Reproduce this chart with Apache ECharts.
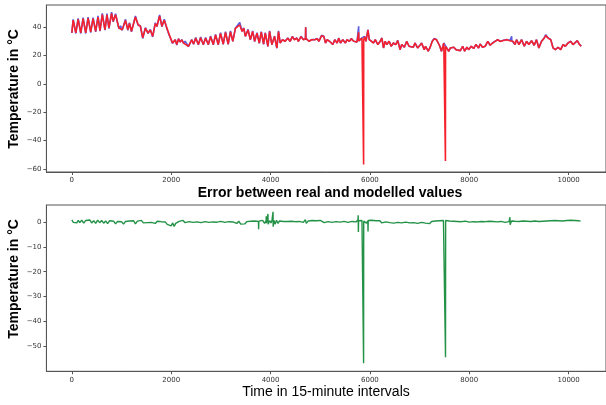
<!DOCTYPE html>
<html>
<head>
<meta charset="utf-8">
<script src="https://cdn.jsdelivr.net/npm/echarts@6/dist/echarts.min.js"></script>
<style>
html,body{margin:0;padding:0;background:#fff;}
#chart{width:606px;height:405px;}
</style>
</head>
<body>
<div id="chart"></div>
<script>
// ---- Data ----
const timeIdx = [0,27,80,127,180,227,280,327,380,427,480,527,567,613,667,707,747,800,833,880,947,980,1013,1080,1127,1160,1200,1280,1333,1380,1427,1480,1533,1580,1627,1680,1713,1767,1813,1860,1913,1960,2000,2027,2080,2113,2147,2180,2213,2250,2280,2347,2413,2450,
2493,2547,2593,2647,2693,2747,2793,2847,2893,2947,2993,3047,3093,3147,3193,3240,3293,3327,3380,3427,3460,3493,3547,3593,3640,3680,3727,3773,3813,3860,3893,3947,3980,4027,4080,4127,4160,4193,4240,4293,4347,4393,4440,4480,4527,4560,4613,4660,4703,4707,4711,4727,4773,4827,4893,4940,
4973,5027,5073,5107,5140,5187,5227,5253,5293,5340,5373,5407,5453,5507,5540,5587,5627,5673,5707,5740,5769,5773,5777,5807,5840,5871,5873,5875,5893,5920,5960,5987,6027,6073,6107,6160,6207,6240,6273,6307,6340,6387,6427,6473,6520,6560,6607,6640,6693,6740,6787,6827,6873,6907,6960,7007,7040,7093,7120,7173,7207,7253,7293,7340,7407,7440,
7487,7518,7520,7522,7553,7587,7620,7653,7687,7733,7773,7820,7867,7907,7953,7987,8040,8087,8133,8187,8220,8267,8320,8373,8420,8467,8520,8573,8620,8687,8753,8820,8849,8853,8857,8887,8920,8953,9000,9053,9107,9153,9200,9253,9307,9353,9400,9453,9507,9540,9587,9640,9687,9733,9787,9840,9887,9933,9987,10040,10087,10120,10173,10220,10253];

const realTemp = [36.0,45.6,35.6,46.3,35.6,46.8,35.6,47.2,36.3,46.8,36.8,48.0,37.2,49.8,37.9,49.6,39.1,50.6,43.8,49.6,39.1,41.0,37.9,45.6,37.9,43.2,36.8,48.0,41.5,41.0,32.1,39.7,35.6,38.5,33.2,43.2,40.5,48.7,40.3,45.6,39.1,34.4,31.0,28.6,31.3,27.5,32.0,29.6,31.3,28.6,30.1,26.4,31.3,28.0,
32.7,27.6,33.1,27.6,32.7,27.6,33.8,27.6,35.0,27.6,36.2,28.0,36.9,28.0,37.4,30.1,39.5,40.9,43.3,37.2,39.5,33.6,38.5,31.1,37.4,29.9,36.2,28.7,36.9,28.0,36.2,26.4,37.4,27.6,33.8,25.2,37.4,28.9,31.3,30.1,32.5,30.1,33.6,31.3,32.5,30.1,33.6,31.3,31.8,40.0,32.2,32.5,30.1,31.3,31.3,32.0,
30.1,34.3,33.6,28.9,31.3,30.1,31.3,27.8,31.3,28.9,32.5,28.9,31.3,28.9,31.3,30.1,32.0,30.1,31.3,29.6,30.0,40.7,30.4,30.1,32.5,31.8,31.5,31.2,33.6,30.1,38.3,31.3,30.1,28.9,31.3,27.8,30.1,32.5,25.4,30.1,27.8,30.1,26.6,28.9,27.8,30.8,24.2,27.8,25.9,30.1,26.6,27.8,25.9,28.9,25.4,27.3,28.9,24.2,26.6,23.1,25.4,30.1,32.0,31.3,26.6,23.1,
28.9,27.5,27.0,26.5,26.6,23.1,25.4,24.2,25.9,24.2,25.4,23.5,26.6,23.1,25.9,24.2,26.6,25.0,27.8,25.4,28.2,25.9,26.6,30.1,27.3,28.9,30.1,31.3,30.1,30.8,31.3,30.6,30.8,33.6,30.5,30.1,27.8,31.3,27.8,31.3,26.6,30.1,27.8,30.6,27.3,31.3,25.4,30.1,32.5,34.8,32.5,31.3,25.4,24.2,25.9,24.2,27.8,26.6,28.9,30.1,27.8,28.9,30.6,27.8,26.6];

const modelTemp = [36.0,45.0,36.0,45.6,36.0,46.1,36.0,46.5,36.7,46.1,37.2,47.2,37.6,48.9,38.3,48.8,39.5,49.7,44.2,48.8,39.5,40.7,38.3,44.8,38.3,42.6,37.2,47.2,41.9,40.7,32.5,39.3,36.0,38.1,33.6,42.6,40.7,47.9,40.7,44.9,39.5,34.8,31.3,28.9,31.1,27.8,31.8,29.6,31.1,28.8,30.0,26.6,31.1,28.2,
32.3,27.8,32.6,27.8,32.3,27.8,33.3,27.8,34.5,27.8,35.6,28.2,36.3,28.2,36.8,30.1,39.2,40.3,41.6,37.0,39.3,33.6,38.1,31.3,37.0,30.1,35.8,28.9,36.5,28.2,35.8,26.6,37.0,27.8,33.5,25.4,37.0,28.9,31.2,30.1,32.3,30.1,33.4,31.2,32.4,30.1,33.4,31.2,31.8,40.0,32.2,32.5,30.1,31.2,31.2,31.9,
30.1,34.0,33.4,28.9,31.2,30.1,31.2,27.8,31.2,28.9,32.3,28.9,31.2,28.9,31.2,30.1,31.8,30.1,31.2,29.6,30.0,36.5,30.4,30.1,32.3,31.8,-56.8,31.2,33.4,30.1,38.0,31.2,30.1,28.9,31.2,27.8,30.1,32.3,25.4,30.1,27.8,30.1,26.6,28.9,27.8,30.6,24.2,27.8,25.9,30.0,26.6,27.8,25.9,28.8,25.4,27.3,28.8,24.2,26.6,23.1,25.4,30.0,31.8,31.2,26.6,23.1,
28.8,27.5,-54.4,26.5,26.6,23.1,25.4,24.2,25.9,24.2,25.4,23.5,26.6,23.1,25.9,24.2,26.6,25.0,27.8,25.4,28.1,25.9,26.6,30.0,27.3,28.8,30.0,31.2,30.0,30.7,31.2,30.5,30.8,31.8,30.5,30.0,27.8,31.2,27.8,31.2,26.6,30.0,27.8,30.5,27.3,31.2,25.4,30.0,32.3,34.1,32.3,31.2,25.4,24.2,25.9,24.2,27.8,26.6,28.8,30.0,27.8,28.8,30.5,27.8,26.6];

const errPoints = [[0,0.8],[30,-0.2],[60,0.5],[100,-0.4],[130,0.6],[160,-0.3],[200,0.7],[240,-0.5],[280,0.6],[320,-0.2],[360,0.8],[400,-0.4],[440,0.5],[480,-0.6],[520,0.7],[560,-0.3],[600,0.6],[640,-0.5],[680,0.4],[720,-0.7],[760,0.5],[800,-0.3],[840,0.3],[880,-0.8],[920,0.2],[960,-0.5],[1000,0.1],[1040,-0.9],[1080,0.2],[1120,-0.6],[1160,0.4],[1200,-0.3],[1240,0.5],[1280,-0.8],[1320,0.3],[1360,-0.2],[1400,0.6],[1440,-0.4],[1480,0.2],[1520,-0.3],[1560,0.5],[1600,-0.2],[1640,0.4],[1680,-0.6],[1720,0.3],[1760,-0.4],[1800,0.1],[1840,-0.7],[1880,0.0],[1920,-1.0],[1960,-0.2],[2000,-1.6],[2030,-0.4],[2060,-1.8],[2090,-0.6],[2120,-1.2],[2160,0.2],[2200,-0.4],[2240,0.6],[2280,-0.3],[2320,0.5],[2360,0.1],[2400,0.7],[2440,-0.2],[2480,0.5],[2520,0.0],[2560,0.6],[2600,-0.3],[2640,0.4],[2680,0.1],[2720,0.6],[2760,-0.2],[2800,0.5],[2840,0.0],[2880,0.7],[2920,-0.1],[2960,0.5],[3000,0.2],[3040,0.6],[3080,-0.2],[3120,0.5],[3160,0.1],[3200,0.6],[3240,0.0],[3280,0.4],[3320,-0.6],[3360,0.3],[3400,-0.9],[3440,-0.2],[3480,-0.8],[3520,0.1],[3560,-0.7],[3600,0.3],[3640,-0.5],[3680,0.4],[3720,-0.4],[3756,0.2],[3760,-2.9],[3764,0.3],[3800,-0.3],[3840,0.6],[3880,-0.6],[3910,0.4],[3913,2.3],[3916,-0.5],[3945,0.3],[3948,3.2],[3951,-0.9],[3980,0.5],[4010,-0.4],[4030,0.8],[4047,0.2],[4050,4.1],[4053,-1.9],[4070,0.6],[4090,-0.9],[4120,0.7],[4150,-0.6],[4180,0.4],[4220,0.6],[4260,0.2],[4300,0.7],[4340,0.2],[4380,0.6],[4420,0.3],[4460,0.7],[4500,0.1],[4540,0.5],[4580,0.2],[4620,0.6],[4660,-0.2],[4700,0.9],[4720,-0.6],[4760,0.4],[4800,0.0],[4840,0.6],[4880,0.2],[4920,0.5],[4960,0.0],[5000,0.6],[5040,0.2],[5080,-0.3],[5120,0.5],[5160,0.1],[5200,0.6],[5240,-0.2],[5280,0.4],[5320,0.1],[5360,0.5],[5400,-0.1],[5440,0.6],[5480,0.2],[5520,0.5],[5560,-0.2],[5600,0.4],[5640,0.2],[5680,0.7],[5720,0.0],[5760,0.9],[5764,2.7],[5768,-4.0],[5772,0.5],[5810,-0.3],[5840,0.6],[5871,0.2],[5873,-56.8],[5875,0.3],[5905,0.8],[5930,-0.5],[5958,0.4],[5962,-3.8],[5966,0.6],[6000,0.3],[6040,0.7],[6080,0.2],[6120,0.5],[6160,0.1],[6200,0.5],[6240,-0.4],[6280,0.3],[6320,0.0],[6360,0.4],[6400,-0.3],[6440,0.5],[6480,-0.5],[6520,0.3],[6560,-0.2],[6600,0.4],[6640,-0.4],[6680,0.2],[6720,-0.1],[6760,0.5],[6800,-0.4],[6840,0.3],[6880,-0.3],[6920,0.4],[6960,-0.6],[7000,0.2],[7040,-0.2],[7080,0.5],[7120,-0.5],[7160,0.3],[7200,-0.7],[7240,0.2],[7280,-0.1],[7320,0.4],[7360,-0.2],[7400,0.5],[7440,0.0],[7480,0.6],[7520,0.2],[7522,-54.4],[7524,0.6],[7560,0.9],[7600,0.4],[7640,0.8],[7680,0.3],[7720,0.7],[7760,0.2],[7800,0.6],[7840,0.1],[7880,0.6],[7920,0.3],[7960,0.5],[8000,-0.1],[8040,0.5],[8080,0.1],[8120,0.6],[8160,0.0],[8200,0.5],[8240,0.2],[8280,0.6],[8320,0.1],[8360,0.5],[8400,0.3],[8440,0.6],[8480,0.2],[8520,0.5],[8560,0.0],[8600,0.4],[8640,0.2],[8680,0.5],[8720,-0.2],[8760,0.4],[8800,0.1],[8818,1.9],[8822,-1.1],[8850,0.4],[8880,-0.2],[8920,0.3],[8960,-0.4],[9000,0.2],[9040,-0.3],[9080,0.4],[9120,-0.2],[9160,0.3],[9200,-0.5],[9240,0.2],[9280,-0.1],[9320,0.4],[9360,-0.3],[9400,0.2],[9440,-0.6],[9480,0.3],[9520,0.0],[9560,0.4],[9600,-0.2],[9640,0.5],[9680,0.1],[9720,0.6],[9760,0.2],[9800,0.5],[9840,0.0],[9880,0.4],[9920,0.2],[9960,0.6],[10000,0.3],[10040,0.7],[10080,0.2],[10120,0.6],[10160,0.3],[10200,0.5],[10240,0.3]];

const xTicks = [0, 2000, 4000, 6000, 8000, 10000];
const topYTicks = [-60, -40, -20, 0, 20, 40];
const botYTicks = [-50, -40, -30, -20, -10, 0];

// ---- Chart ----
const zip = (xs, ys) => xs.map((x, i) => [x, ys[i]]);
const minus = v => String(v).replace('-', '\u2212');
const axisColor = '#555';
const tickFont = {fontFamily: 'DejaVu Sans', fontSize: 7, color: '#333'};

function xAxisCfg(gi) {
  return {
    type: 'value', gridIndex: gi, min: -512, max: 10752,
    axisLine: {show: true, onZero: false, lineStyle: {color: axisColor, width: 1}},
    axisTick: {show: true, length: 3, customValues: xTicks, lineStyle: {color: axisColor}},
    axisLabel: Object.assign({customValues: xTicks, margin: 5, formatter: minus}, tickFont),
    splitLine: {show: false}
  };
}
function yAxisCfg(gi, min, max, ticks) {
  return {
    type: 'value', gridIndex: gi, min: min, max: max,
    axisLine: {show: true, onZero: false, lineStyle: {color: axisColor, width: 1}},
    axisTick: {show: true, length: 3, customValues: ticks, lineStyle: {color: axisColor}},
    axisLabel: Object.assign({customValues: ticks, margin: 5, formatter: minus}, tickFont),
    splitLine: {show: false}
  };
}

const chart = echarts.init(document.getElementById('chart'), null, {renderer: 'canvas'});
chart.setOption({
  animation: false,
  backgroundColor: '#fff',
  grid: [
    {left: 46.4, top: 5, width: 564, height: 167, show: true, borderColor: axisColor, borderWidth: 1, containLabel: false},
    {left: 46.4, top: 205, width: 564, height: 166.3, show: true, borderColor: axisColor, borderWidth: 1, containLabel: false}
  ],
  xAxis: [xAxisCfg(0), xAxisCfg(1)],
  yAxis: [yAxisCfg(0, -62.1, 55.7, topYTicks), yAxisCfg(1, -60, 6.8, botYTicks)],
  series: [
    {type: 'line', xAxisIndex: 0, yAxisIndex: 0, data: zip(timeIdx, realTemp), showSymbol: false,
     lineStyle: {color: '#4040dd', width: 1.6, opacity: 0.85}, z: 2},
    {type: 'line', xAxisIndex: 0, yAxisIndex: 0, data: zip(timeIdx, modelTemp), showSymbol: false,
     lineStyle: {color: '#f5222d', width: 1.6, opacity: 1}, z: 3},
    {type: 'line', xAxisIndex: 1, yAxisIndex: 1, data: errPoints, showSymbol: false,
     lineStyle: {color: '#178c3d', width: 1.4, opacity: 0.95}, z: 2}
  ],
  graphic: [
    {type: 'text', x: 330, y: 193, style: {text: 'Error between real and modelled values', fontFamily: 'Liberation Sans', fontWeight: 'bold', fontSize: 14, fill: '#000', textAlign: 'center', textVerticalAlign: 'middle'}},
    {type: 'text', x: 326, y: 392, style: {text: 'Time in 15-minute intervals', fontFamily: 'Liberation Sans', fontSize: 14, fill: '#000', textAlign: 'center', textVerticalAlign: 'middle'}},
    {type: 'text', x: 14, y: 89, rotation: Math.PI / 2, style: {text: 'Temperature in °C', fontFamily: 'Liberation Sans', fontWeight: 'bold', fontSize: 14, fill: '#000', textAlign: 'center', textVerticalAlign: 'middle'}},
    {type: 'text', x: 14, y: 279, rotation: Math.PI / 2, style: {text: 'Temperature in °C', fontFamily: 'Liberation Sans', fontWeight: 'bold', fontSize: 14, fill: '#000', textAlign: 'center', textVerticalAlign: 'middle'}}
  ]
});
</script>
</body>
</html>
